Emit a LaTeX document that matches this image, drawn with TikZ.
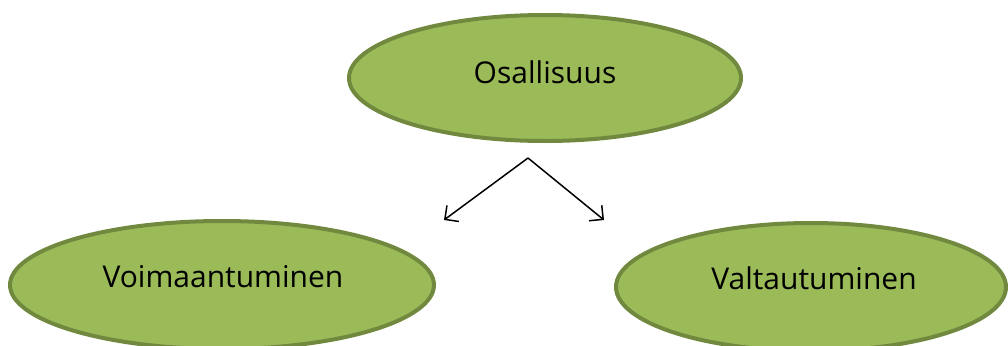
\documentclass[tikz,border=0pt]{standalone}
\usepackage{fontspec}
\setmainfont{Open Sans}
\usetikzlibrary{arrows.meta,shapes.geometric}
\definecolor{olivefill}{HTML}{9BBB59}
\definecolor{oliveline}{HTML}{71893F}
\begin{document}
\begin{tikzpicture}[x=1pt,y=-1pt,
  bubble/.style={ellipse,draw=oliveline,fill=olivefill,line width=4pt,inner sep=0pt},
  lab/.style={font=\fontsize{30}{35}\selectfont,text=black},
  conn/.style={line width=1.5pt,-{Straight Barb[length=10pt,width=20pt,line width=1.5pt]}}]
\useasboundingbox (0,0) rectangle (1008,345);
\node[bubble,minimum width=392pt,minimum height=126pt] (top) at (545,78) {};
\node[bubble,minimum width=424pt,minimum height=128pt] (left) at (222,285) {};
\node[bubble,minimum width=390pt,minimum height=128pt] (right) at (811,287) {};
\node[lab] at (545,72) {Osallisuus};
\node[lab] at (223,277) {Voimaantuminen};
\node[lab] at (814,278) {Valtautuminen};
\coordinate (apex) at (528,158);
\coordinate (lt) at (444,220);
\coordinate (rt) at (604,220);
\draw[conn] (apex) -- (lt);
\draw[conn] (apex) -- (rt);
\end{tikzpicture}
\end{document}
